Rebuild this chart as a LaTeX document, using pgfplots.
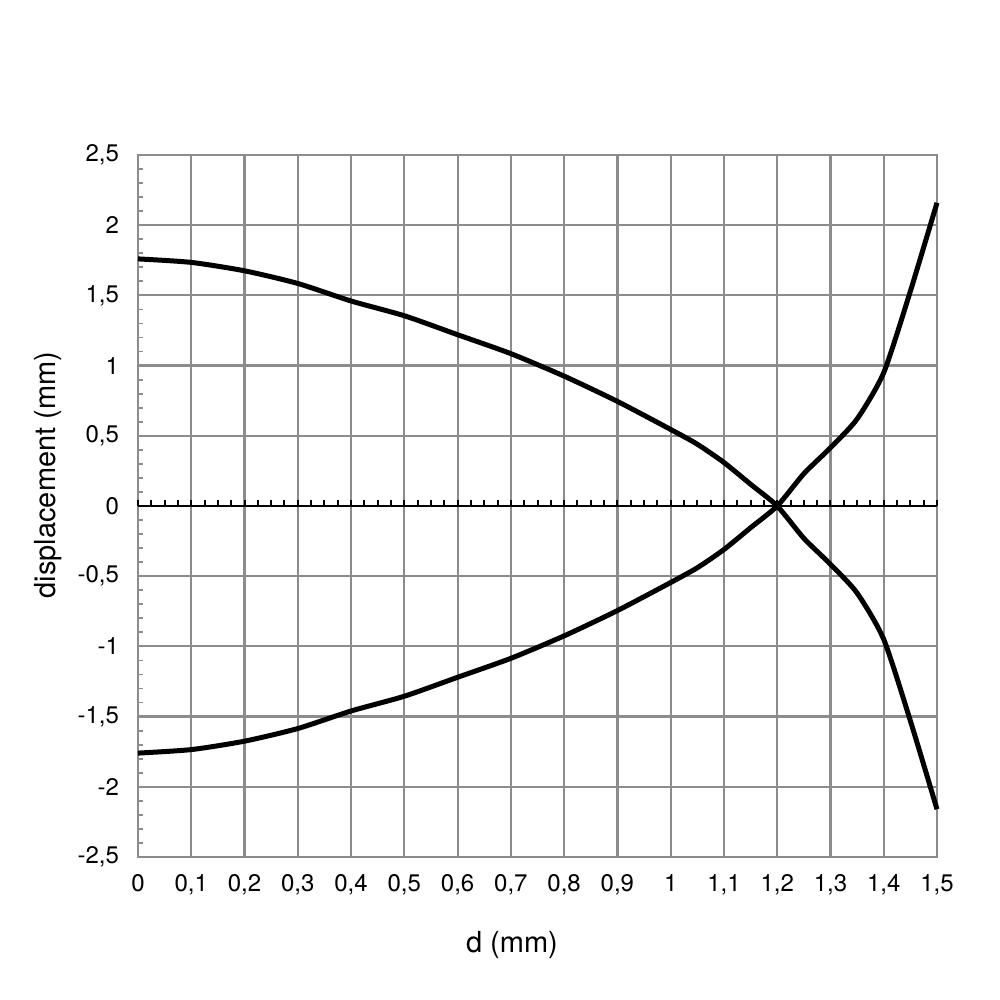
\documentclass[border=0pt]{standalone}
\usepackage{pgfplots}
\pgfplotsset{compat=1.18}
\usepackage{fontspec}
\setmainfont{TeX Gyre Heros}
\definecolor{gridgray}{RGB}{140,140,140}
\begin{document}
\begin{tikzpicture}
\useasboundingbox (-69pt,-71.5pt) rectangle (431pt,428.5pt);
\begin{axis}[
  at={(0,0)}, anchor=south west,
  scale only axis, width=399.5pt, height=351pt,
  xmin=0, xmax=1.5, ymin=-2.5, ymax=2.5,
  xtick={0,0.1,...,1.5}, ytick={-2.5,-2,...,2.5},
  minor y tick num=4,
  grid=major,
  major grid style={gridgray, line width=1.1pt},
  axis line style={gridgray, line width=1.1pt},
  tick pos=left, tick align=inside,
  xtick style={draw=none},
  ytick style={gridgray, line width=0.9pt},
  major tick length=0pt, minor tick length=2.5pt,
  xticklabel style={font=\fontsize{12}{14}\selectfont, yshift=-5pt},
  yticklabel style={font=\fontsize{12}{14}\selectfont, xshift=-6pt},
  xticklabel={\pgfmathprintnumber[assume math mode=true,use comma]{\tick}},
  yticklabel={\pgfmathprintnumber[assume math mode=true,use comma]{\tick}},
  xlabel={d (mm)}, ylabel={displacement (mm)},
  xlabel style={font=\fontsize{14.5}{17}\selectfont, at={(axis description cs:0.468,-0.1254)}, anchor=center},
  ylabel style={font=\fontsize{14.5}{17}\selectfont, at={(axis description cs:-0.1126,0.544)}, anchor=center},
  clip=false,
]
\addplot[black, line width=1pt] coordinates {(0,0) (1.5,0)};
\addplot[black, line width=2.5pt, smooth, tension=0.4] coordinates {
(0,1.76) (0.1,1.735) (0.2,1.675) (0.3,1.585) (0.4,1.46) (0.5,1.355)
(0.6,1.22) (0.7,1.085) (0.8,0.925) (0.9,0.745) (1.0,0.545) (1.05,0.44)
(1.1,0.31) (1.15,0.155) (1.2,0) (1.25,-0.23) (1.3,-0.415) (1.35,-0.62)
(1.4,-0.95) (1.45,-1.53) (1.5,-2.16)};
\addplot[black, line width=2.5pt, smooth, tension=0.4] coordinates {
(0,-1.76) (0.1,-1.735) (0.2,-1.675) (0.3,-1.585) (0.4,-1.46) (0.5,-1.355)
(0.6,-1.22) (0.7,-1.085) (0.8,-0.925) (0.9,-0.745) (1.0,-0.545) (1.05,-0.44)
(1.1,-0.31) (1.15,-0.155) (1.2,0) (1.25,0.23) (1.3,0.415) (1.35,0.62)
(1.4,0.95) (1.45,1.53) (1.5,2.16)};
\end{axis}
\begin{axis}[
  at={(0,0)}, anchor=south west,
  scale only axis, width=399.5pt, height=351pt,
  xmin=0, xmax=1.5, ymin=-2.5, ymax=2.5,
  axis x line=middle, axis y line=none,
  x axis line style={draw=none, -},
  xtick={0,0.1,...,1.5}, minor x tick num=3,
  xticklabels={},
  tick align=inside,
  every tick/.style={black, line width=1pt},
  major tick length=2.75pt, minor tick length=2.75pt,
]
\end{axis}
\end{tikzpicture}
\end{document}
